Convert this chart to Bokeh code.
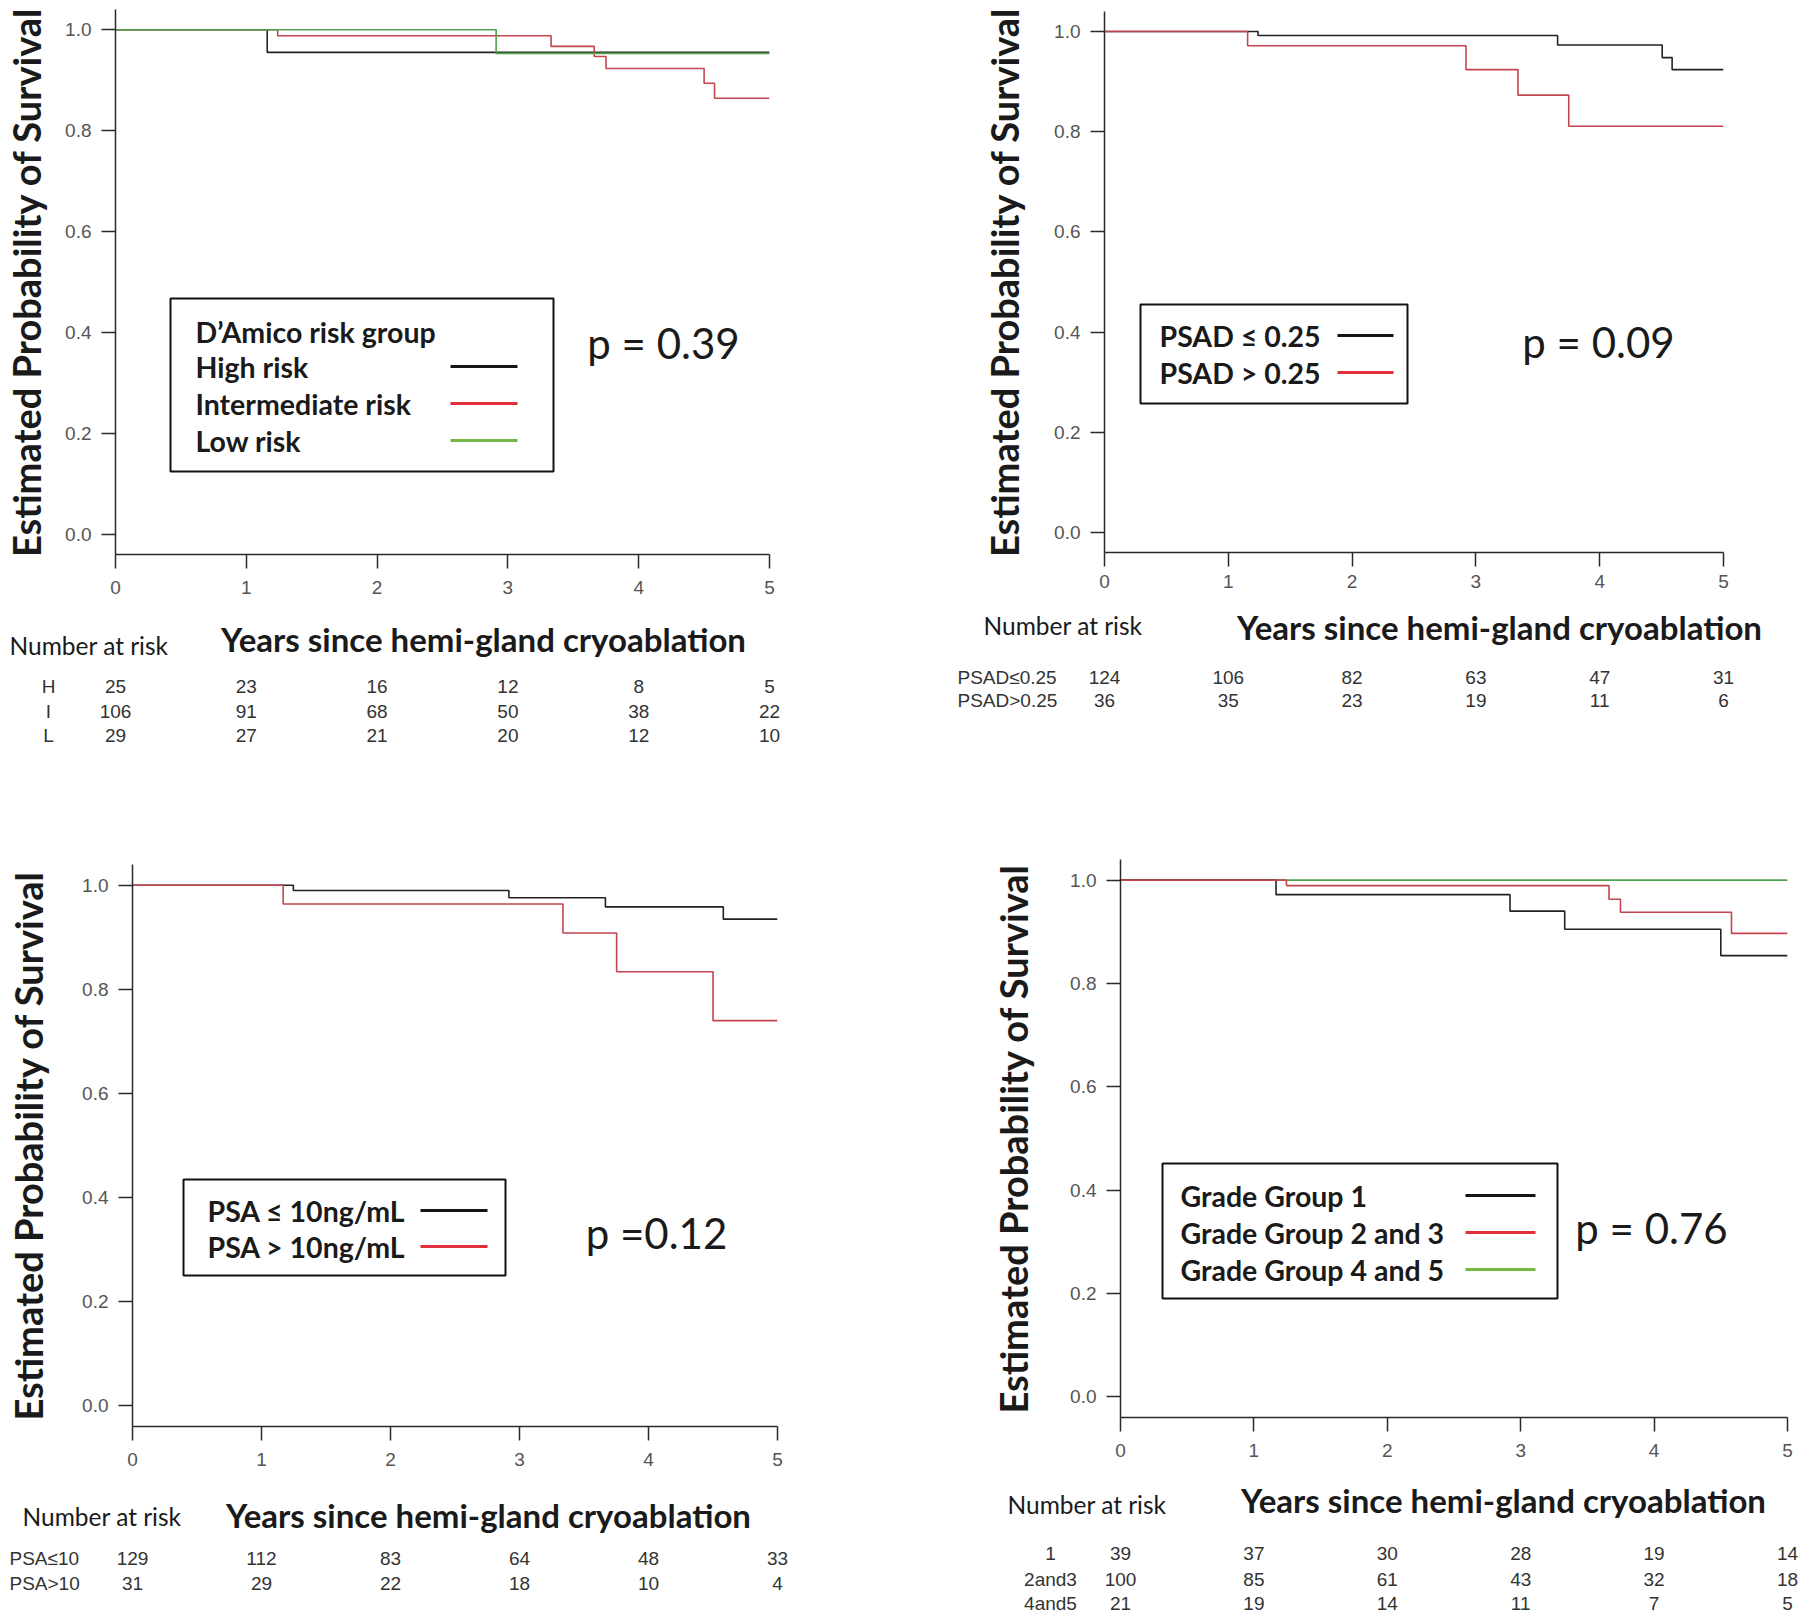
from bokeh.plotting import figure
from bokeh.models import Range1d, FixedTicker, PrintfTickFormatter
from bokeh.layouts import column, row
from bokeh.core.properties import value
from bokeh.embed import file_html
from bokeh.resources import INLINE

# ---------------- data ----------------
years = [0, 1, 2, 3, 4, 5]
y_ticks = [0.0, 0.2, 0.4, 0.6, 0.8, 1.0]
x_title = "Years since hemi-gland cryoablation"
y_title = "Estimated Probability of Survival"

# Panel A: D'Amico risk group
a_high_t = [0, 1.16, 5]
a_high_s = [1.0, 0.955, 0.955]
a_int_t = [0, 1.24, 3.33, 3.66, 3.75, 4.50, 4.58, 5]
a_int_s = [1.0, 0.988, 0.967, 0.947, 0.923, 0.894, 0.864, 0.864]
a_low_t = [0, 2.91, 5]
a_low_s = [1.0, 0.953, 0.953]
a_legend_title = "D\u2019Amico risk group"
a_labels = ["High risk", "Intermediate risk", "Low risk"]
a_p = "p = 0.39"
a_risk_rows = ["H", "I", "L"]
a_risk = [[25, 23, 16, 12, 8, 5], [106, 91, 68, 50, 38, 22], [29, 27, 21, 20, 12, 10]]

# Panel B: PSAD
b_low_t = [0, 1.24, 3.66, 4.505, 4.585, 5]
b_low_s = [1.0, 0.992, 0.973, 0.948, 0.924, 0.924]
b_high_t = [0, 1.156, 2.92, 3.34, 3.75, 5]
b_high_s = [1.0, 0.9715, 0.924, 0.873, 0.811, 0.811]
b_labels = ["PSAD \u2264 0.25", "PSAD > 0.25"]
b_p = "p = 0.09"
b_risk_rows = ["PSAD\u22640.25", "PSAD>0.25"]
b_risk = [[124, 106, 82, 63, 47, 31], [36, 35, 23, 19, 11, 6]]

# Panel C: PSA
c_low_t = [0, 1.247, 2.918, 3.666, 4.58, 5]
c_low_s = [1.0, 0.990, 0.976, 0.9585, 0.935, 0.935]
c_high_t = [0, 1.168, 3.337, 3.753, 4.50, 5]
c_high_s = [1.0, 0.964, 0.9085, 0.834, 0.74, 0.74]
c_labels = ["PSA \u2264 10ng/mL", "PSA > 10ng/mL"]
c_p = "p =0.12"
c_risk_rows = ["PSA\u226410", "PSA>10"]
c_risk = [[129, 112, 83, 64, 48, 33], [31, 29, 22, 18, 10, 4]]

# Panel D: Grade group
d_g1_t = [0, 1.166, 2.92, 3.33, 4.50, 5]
d_g1_s = [1.0, 0.972, 0.940, 0.905, 0.854, 0.854]
d_g23_t = [0, 1.244, 3.662, 3.748, 4.58, 5]
d_g23_s = [1.0, 0.9895, 0.963, 0.938, 0.897, 0.897]
d_g45_t = [0, 5]
d_g45_s = [1.0, 1.0]
d_labels = ["Grade Group 1", "Grade Group 2 and 3", "Grade Group 4 and 5"]
d_p = "p = 0.76"
d_risk_rows = ["1", "2and3", "4and5"]
d_risk = [[39, 37, 30, 28, 19, 14], [100, 85, 61, 43, 32, 18], [21, 19, 14, 11, 7, 5]]

# ---------------- styles ----------------
C_BLACK = "#222222"
C_RED = "#c2454f"
C_GREEN = "#4fa34f"
L_BLACK = "#151515"
L_RED = "#e0303a"
L_GREEN = "#74b944"
TEXT = "#1a1a1a"
AX = "#2a2a2a"
TICKTXT = "#555555"
LATO = "Lato"
NUMFONT = "Liberation Sans"


def make_panel(cfg, curves, legend_title, labels, line_colors, ptext, risk_rows, risk):
    W, Hm, Ht = cfg["W"], cfg["Hm"], cfg["Ht"]
    L, R, T, B = cfg["L"], cfg["R"], cfg["T"], cfg["B"]
    y0, y1 = -0.04, 1.04

    def dx(px):
        return (px - L) / (R - L) * 5.0

    def dy(py):
        return y1 - (py - T) / (B - T) * (y1 - y0)

    p = figure(width=W, height=Hm, x_range=Range1d(0, 5), y_range=Range1d(y0, y1),
               output_backend="svg", toolbar_location=None,
               min_border_left=L, min_border_right=W - R,
               min_border_top=T, min_border_bottom=Hm - B)
    p.grid.visible = False
    p.outline_line_color = None
    p.background_fill_color = "white"
    p.border_fill_color = "white"

    for ax in (p.xaxis[0], p.yaxis[0]):
        ax.axis_line_color = AX
        ax.axis_line_width = 1.5
        ax.major_tick_line_color = AX
        ax.major_tick_line_width = 1.5
        ax.major_tick_out = 14
        ax.major_tick_in = 0
        ax.minor_tick_line_color = None
        ax.major_label_text_font = NUMFONT
        ax.major_label_text_font_size = "19px"
        ax.major_label_text_color = TICKTXT
    p.xaxis.ticker = FixedTicker(ticks=years)
    p.xaxis.major_label_standoff = cfg["xs"]
    p.yaxis.ticker = FixedTicker(ticks=y_ticks)
    p.yaxis.formatter = PrintfTickFormatter(format="%.1f")
    p.yaxis.major_label_standoff = 10
    p.yaxis.axis_label = y_title
    p.yaxis.axis_label_text_font = LATO
    p.yaxis.axis_label_text_font_style = "bold"
    p.yaxis.axis_label_text_font_size = "38px"
    p.yaxis.axis_label_text_color = TEXT
    p.yaxis.axis_label_standoff = cfg["ys"]

    for (t, s, col) in curves:
        p.step(t, s, mode="after", line_color=col, line_width=1.6)

    # legend box
    bx0, bx1, by0, by1 = cfg["box"]
    p.quad(left=[dx(bx0)], right=[dx(bx1)], top=[dy(by0)], bottom=[dy(by1)],
           fill_color="white", line_color="#111111", line_width=2)
    ey = cfg["ey"]
    texts = ([legend_title] if legend_title else []) + labels
    p.text(x=[dx(cfg["tx"])] * len(texts), y=[dy(v) for v in ey], text=texts,
           text_font=value(LATO), text_font_style="bold", text_font_size="28.5px",
           text_color=TEXT, text_align="left", text_baseline="middle")
    line_ys = ey[1:] if legend_title else ey
    lx0, lx1 = cfg["lx"]
    p.segment(x0=[dx(lx0)] * len(line_ys), x1=[dx(lx1)] * len(line_ys),
              y0=[dy(v) for v in line_ys], y1=[dy(v) for v in line_ys],
              line_color=line_colors, line_width=3)
    pcx, pcy = cfg["pc"]
    p.text(x=[dx(pcx)], y=[dy(pcy)], text=[ptext], text_font=value(LATO),
           text_font_size="42px", text_color=TEXT, text_align="center",
           text_baseline="middle")

    # risk table figure; its frame spans the full panel width, x mapped like the plot
    ppu = (R - L) / 5.0
    t = figure(width=W, height=Ht, x_range=Range1d(-L / ppu, (W - L) / ppu),
               y_range=Range1d(Ht, 0), output_backend="svg", toolbar_location=None,
               x_axis_type=None, y_axis_type=None, min_border=0,
               min_border_left=0, min_border_right=0, min_border_top=0, min_border_bottom=0)
    t.grid.visible = False
    t.outline_line_color = None
    t.border_fill_color = "white"
    t.background_fill_color = "white"
    xtx, xty = cfg["xt"]
    t.text(x=[dx(xtx)], y=[xty], text=[x_title], text_font=value(LATO),
           text_font_style="bold", text_font_size="33px", text_color=TEXT,
           text_align="center", text_baseline="middle")
    nx, ny = cfg["nar"]
    t.text(x=[dx(nx)], y=[ny], text=["Number at risk"], text_font=value(LATO),
           text_font_size="24.5px", text_color=TEXT, text_align="left",
           text_baseline="middle")
    rys = cfg["rows"]
    rlx, ralign = cfg["rlab"]
    t.text(x=[dx(rlx)] * len(risk_rows), y=rys, text=risk_rows,
           text_font=value(NUMFONT), text_font_size="19px", text_color="#333333",
           text_align=ralign, text_baseline="middle")
    for i, vals in enumerate(risk):
        t.text(x=years, y=[rys[i]] * len(years), text=[str(v) for v in vals],
               text_font=value(NUMFONT), text_font_size="19px", text_color="#333333",
               text_align="center", text_baseline="middle")
    # wrap each figure in its own row so the column does not align their frames
    return column(row(p), row(t))


cfg_a = dict(W=850, Hm=610, Ht=158, L=115, R=769, T=9, B=554, xs=12, ys=13,
             box=(170, 553, 298, 471), ey=[331, 366, 403, 440], tx=195, lx=(450, 517),
             pc=(663, 342),
             xt=(483, 28), nar=(9, 35), rows=[76, 101, 125], rlab=(48, "center"))
cfg_b = dict(W=950, Hm=600, Ht=168, L=254, R=873, T=11, B=552, xs=8, ys=24,
             box=(290, 557, 304, 403), ey=[335, 372], tx=309, lx=(487, 543),
             pc=(748, 341),
             xt=(649, 26), nar=(133, 25), rows=[77, 100], rlab=(107, "left"))
cfg_c = dict(W=850, Hm=710, Ht=141, L=132, R=777, T=96, B=658, xs=12, ys=28,
             box=(183, 505, 411, 507), ey=[442, 478], tx=207, lx=(420, 487),
             pc=(656, 464),
             xt=(488, 36), nar=(22, 38), rows=[80, 105], rlab=(9, "left"))
cfg_d = dict(W=950, Hm=710, Ht=141, L=270, R=937, T=91, B=649, xs=12, ys=31,
             box=(312, 707, 395, 530), ey=[427, 464, 501], tx=330, lx=(615, 685),
             pc=(801, 459),
             xt=(653, 21), nar=(157, 26), rows=[75, 101, 125], rlab=(200, "center"))

pa = make_panel(cfg_a,
                [(a_high_t, a_high_s, C_BLACK), (a_int_t, a_int_s, C_RED), (a_low_t, a_low_s, C_GREEN)],
                a_legend_title, a_labels, [L_BLACK, L_RED, L_GREEN], a_p, a_risk_rows, a_risk)
pb = make_panel(cfg_b,
                [(b_low_t, b_low_s, C_BLACK), (b_high_t, b_high_s, C_RED)],
                None, b_labels, [L_BLACK, L_RED], b_p, b_risk_rows, b_risk)
pc = make_panel(cfg_c,
                [(c_low_t, c_low_s, C_BLACK), (c_high_t, c_high_s, C_RED)],
                None, c_labels, [L_BLACK, L_RED], c_p, c_risk_rows, c_risk)
pd = make_panel(cfg_d,
                [(d_g45_t, d_g45_s, C_GREEN), (d_g1_t, d_g1_s, C_BLACK), (d_g23_t, d_g23_s, C_RED)],
                None, d_labels, [L_BLACK, L_RED, L_GREEN], d_p, d_risk_rows, d_risk)

layout = column(row(pa, pb), row(pc, pd))

with open("out.html", "w") as f:
    f.write(file_html(layout, INLINE))
